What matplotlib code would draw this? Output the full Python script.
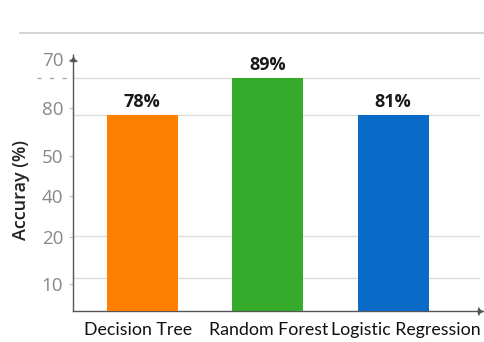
import matplotlib
matplotlib.use('Agg')
import matplotlib.pyplot as plt
from matplotlib.lines import Line2D
from matplotlib import font_manager

categories = ['Decision Tree', 'Random Forest', 'Logistic Regression']
accuracy = [78, 89, 81]              # value labels shown above bars
bar_heights = [78.5, 93.5, 78.5]     # bar heights as drawn on the axis
bar_colors = ['#FF8000', '#36AA2A', '#0A6AC8']
ytick_labels = ['10', '20', '40', '50', '80', '70']
ytick_pos = [10.8, 29.7, 46.1, 62.1, 81.4, 101]
grid_pos = [13.2, 30.1, 46.1, 62.1, 78.6, 93.4]
xlabel_pos = [-0.03, 1.01, 2.1]
ylabel = 'Accuray (%)'

plt.rcParams['font.family'] = ['Open Sans', 'DejaVu Sans']
names = {f.name for f in font_manager.fontManager.ttflist}
narrow = 'Liberation Sans Narrow' if 'Liberation Sans Narrow' in names else 'Lato'

fig = plt.figure(figsize=(4.84, 3.42), dpi=100)
ax = fig.add_axes([73/484, 31/342, (480-73)/484, 252/342])

x = list(range(len(categories)))
bars = ax.bar(x, bar_heights, width=0.566, color=bar_colors, zorder=3)
for b, v in zip(bars, accuracy):
    ax.annotate(f'{v}%', (b.get_x() + b.get_width()/2, b.get_height()),
                xytext=(0, 3), textcoords='offset points', ha='center', va='bottom',
                fontsize=13, fontweight='bold', color='#1a1a1a')

ax.set_xlim(-0.55, 2.693)
ax.set_ylim(0, 101)

ax.set_xticks(xlabel_pos, categories, fontsize=12.8, color='#111111',
              family=[narrow, 'DejaVu Sans'])
ax.tick_params(axis='x', length=0, pad=8)
ax.set_yticks(ytick_pos, ytick_labels)
ax.tick_params(axis='y', which='major', length=3, color='#bbbbbb', labelsize=13.5,
               labelcolor='#888888', pad=4)
ax.set_yticks(grid_pos, minor=True)
ax.tick_params(axis='y', which='minor', length=0)
ax.grid(axis='y', which='minor', color='#dddddd', lw=1, zorder=0)
ax.grid(axis='y', which='major', visible=False)

for s in ['top', 'right']:
    ax.spines[s].set_visible(False)
for s in ['left', 'bottom']:
    ax.spines[s].set_color('#555555')
    ax.spines[s].set_linewidth(1)

ax.plot(1, 0, marker='4', markersize=7, color='#555555', transform=ax.transAxes, clip_on=False)
ax.plot(0, 1, marker='2', markersize=7, color='#555555', transform=ax.transAxes, clip_on=False)
ax.plot(1, 0, marker='>', markersize=3, color='#555555', transform=ax.transAxes, clip_on=False)
ax.plot(0, 1, marker='^', markersize=3, color='#555555', transform=ax.transAxes, clip_on=False)

ax.axhline(grid_pos[-1], xmin=-0.088, xmax=0, clip_on=False, ls=(0, (3, 6)),
           color='#aaaaaa', lw=1)

ax.set_ylabel(ylabel, fontsize=13, fontweight='semibold', color='#222222')
ax.yaxis.set_label_coords(-0.106, 0.48)

fig.add_artist(Line2D([20/484, 1], [1 - 33/342, 1 - 33/342], color='#cccccc', lw=1.2))

fig.savefig('out.png', dpi=100)
